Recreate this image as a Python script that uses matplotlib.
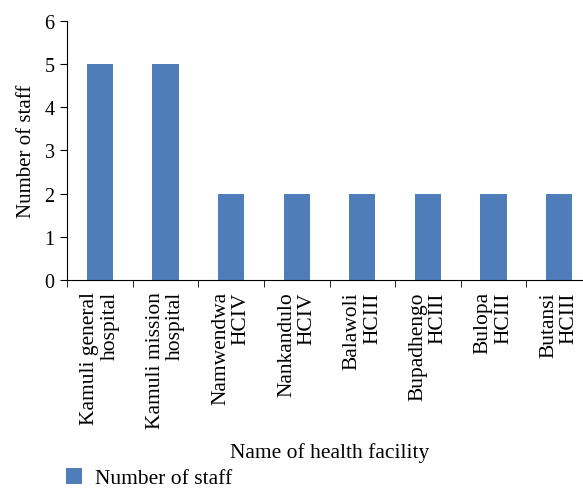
import matplotlib
matplotlib.use("Agg")
import matplotlib.pyplot as plt
import numpy as np

facilities = ["Kamuli general\nhospital", "Kamuli mission\nhospital", "Namwendwa\nHCIV",
              "Nankandulo\nHCIV", "Balawoli\nHCIII", "Bupadhengo\nHCIII", "Bulopa\nHCIII",
              "Butansi\nHCIII"]
staff = [5, 5, 2, 2, 2, 2, 2, 2]

plt.rcParams['font.family'] = ['Liberation Serif', 'DejaVu Serif']

fig = plt.figure(figsize=(5.83, 4.89), dpi=100)
ax = fig.add_axes([0.115, 0.4254, 0.9005, 0.5297])

x = np.arange(len(staff))
bars = ax.bar(x, staff, width=0.4, color='#4F7DB9', label='Number of staff')

ax.set_xlim(-0.5, len(staff) - 0.5)
ax.set_ylim(0, 6)
ax.set_yticks(range(0, 7))
ax.tick_params(axis='y', labelsize=14.5, length=5, direction='out', pad=4)

ax.set_xticks(x)
ax.set_xticklabels(facilities, rotation=90, fontsize=15.5, ha='center', va='top',
                   multialignment='right', linespacing=1.1)
ax.tick_params(axis='x', which='major', length=0, pad=8)
ax.set_xticks(np.arange(-0.5, len(staff), 1), minor=True)
ax.tick_params(axis='x', which='minor', length=5, direction='out')

ax.spines['top'].set_visible(False)
ax.spines['right'].set_visible(False)

ax.set_ylabel('Number of staff', fontsize=15, labelpad=6)
ax.set_xlabel('Name of health facility', fontsize=15.5, labelpad=10)

fig.legend(handles=[bars], labels=['Number of staff'], loc='center left',
           bbox_to_anchor=(0.08, 0.02), frameon=False, fontsize=15.5,
           handlelength=0.75, handleheight=0.75, handletextpad=0.6)

fig.savefig('out.png', dpi=100)
